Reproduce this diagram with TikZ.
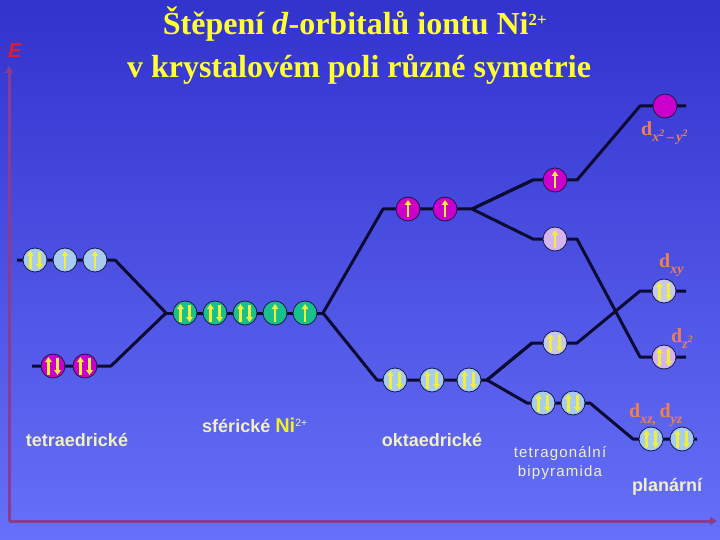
\documentclass[tikz,border=0pt]{standalone}
\usepackage{fontspec}
\setmainfont{Liberation Serif}
\setsansfont{Liberation Sans}
\usetikzlibrary{arrows.meta}
\definecolor{bgtop}{RGB}{50,50,205}
\definecolor{bgbot}{RGB}{102,112,248}
\definecolor{levcol}{RGB}{12,12,50}
\definecolor{edgecol}{RGB}{25,25,70}
\definecolor{lblue}{RGB}{168,204,240}
\definecolor{mag}{RGB}{204,0,204}
\definecolor{grn}{RGB}{24,192,140}
\definecolor{lav}{RGB}{198,200,240}
\definecolor{viol}{RGB}{214,180,240}
\definecolor{spincol}{RGB}{240,240,60}
\definecolor{axcol}{RGB}{140,60,140}
\definecolor{titcol}{RGB}{255,255,50}
\definecolor{labcol}{RGB}{240,128,84}
\definecolor{txtcol}{RGB}{240,240,192}
\definecolor{nicol}{RGB}{240,240,40}
\definecolor{ecol}{RGB}{225,30,40}
\newcommand\spinu[1]{\draw[spin] ([yshift=-8.5pt]#1.center) -- ([yshift=9pt]#1.center);}
\newcommand\spinud[1]{\draw[spin] ([xshift=-4.5pt,yshift=-8.5pt]#1.center) -- ([xshift=-4.5pt,yshift=9pt]#1.center);
  \draw[spin] ([xshift=4.5pt,yshift=8.5pt]#1.center) -- ([xshift=4.5pt,yshift=-9pt]#1.center);}
\newcommand\dsub[1]{d\raisebox{-6pt}{\fontsize{14}{14}\selectfont\itshape #1}}
\begin{document}
\begin{tikzpicture}[x=1pt,y=-1pt,
  lev/.style={draw=levcol, line width=3pt, line join=round},
  orb/.style={circle, minimum size=24pt, inner sep=0pt, draw=edgecol, line width=0.8pt},
  spin/.style={draw=spincol, line width=2.2pt, -{Triangle[width=6.5pt,length=5pt]}},
  axis/.style={draw=axcol, line width=3pt, -{Triangle[width=8pt,length=7pt]}},
  dlab/.style={anchor=base west, inner sep=0pt, text=labcol, font=\fontsize{20}{20}\selectfont\bfseries},
  blab/.style={inner sep=0pt, text=txtcol, font=\sffamily\fontsize{18}{18}\selectfont\bfseries},
  title/.style={anchor=base, inner sep=0pt, text=titcol, font=\fontsize{32}{32}\selectfont\bfseries}]
\useasboundingbox (0,0) rectangle (720,540);
\shade[top color=bgtop, bottom color=bgbot] (0,0) rectangle (720,540);

% axes
\coordinate (O) at (9,521);
\coordinate (Etop) at (9,66);
\coordinate (Xend) at (717,521);
\draw[axis] (O) -- (Etop);
\draw[axis] (O) -- (Xend);
\node[text=ecol, font=\sffamily\fontsize{20}{20}\selectfont\bfseries\itshape] (E) at (15,51) {E};

% titles
\node[title] (t1) at (355,35) {Štěpení \textit{d}-orbitalů iontu Ni{\fontsize{24}{24}\selectfont\textsuperscript{2+}}};
\node[title] (t2) at (359,78) {v krystalovém poli různé symetrie};

% level coordinates
\coordinate (tUa) at (17,260); \coordinate (tUb) at (115,260);
\coordinate (tLa) at (32,366); \coordinate (tLb) at (111,366);
\coordinate (sLa) at (166,313); \coordinate (sLb) at (323,313);
\coordinate (egA) at (383,209); \coordinate (egB) at (472,209);
\coordinate (t2A) at (377,380); \coordinate (t2B) at (487,380);
\coordinate (q1A) at (533,180); \coordinate (q1B) at (577,180);
\coordinate (q2A) at (533,239); \coordinate (q2B) at (577,239);
\coordinate (q3A) at (532,343); \coordinate (q3B) at (577,343);
\coordinate (q4A) at (527,403); \coordinate (q4B) at (590,403);
\coordinate (p1A) at (640,106); \coordinate (p1B) at (686,106);
\coordinate (p2A) at (640,291); \coordinate (p2B) at (686,291);
\coordinate (p3A) at (640,357); \coordinate (p3B) at (686,357);
\coordinate (p4A) at (633,439); \coordinate (p4B) at (697,439);

% levels and correlation lines
\draw[lev] (tUa) -- (tUb) -- (sLa) -- (tLb) -- (tLa);
\draw[lev] (sLa) -- (sLb);
\draw[lev] (egB) -- (egA) -- (sLb) -- (t2A) -- (t2B);
\draw[lev] (q1A) -- (egB) -- (q2A) -- (q2B) -- (p3A) -- (p3B);
\draw[lev] (egB) -- (q1A) -- (q1B) -- (p1A) -- (p1B);
\draw[lev] (q3A) -- (t2B) -- (q4A) -- (q4B) -- (p4A) -- (p4B);
\draw[lev] (t2B) -- (q3A) -- (q3B) -- (p2A) -- (p2B);

% tetrahedral
\node[orb, fill=lblue] (a1) at (35,260) {}; \spinud{a1}
\node[orb, fill=lblue] (a2) at (65,260) {}; \spinu{a2}
\node[orb, fill=lblue] (a3) at (95,260) {}; \spinu{a3}
\node[orb, fill=mag] (b1) at (53,366) {}; \spinud{b1}
\node[orb, fill=mag] (b2) at (85,366) {}; \spinud{b2}
% spherical
\node[orb, fill=grn] (s1) at (185,313) {}; \spinud{s1}
\node[orb, fill=grn] (s2) at (215,313) {}; \spinud{s2}
\node[orb, fill=grn] (s3) at (245,313) {}; \spinud{s3}
\node[orb, fill=grn] (s4) at (275,313) {}; \spinu{s4}
\node[orb, fill=grn] (s5) at (305,313) {}; \spinu{s5}
% octahedral
\node[orb, fill=mag] (e1) at (408,209) {}; \spinu{e1}
\node[orb, fill=mag] (e2) at (445,209) {}; \spinu{e2}
\node[orb, fill=lblue] (g1) at (395,380) {}; \spinud{g1}
\node[orb, fill=lblue] (g2) at (432,380) {}; \spinud{g2}
\node[orb, fill=lblue] (g3) at (469,380) {}; \spinud{g3}
% tetragonal bipyramid
\node[orb, fill=mag] (r1) at (555,180) {}; \spinu{r1}
\node[orb, fill=viol] (r2) at (555,239) {}; \spinu{r2}
\node[orb, fill=lav] (r3) at (555,343) {}; \spinud{r3}
\node[orb, fill=lblue] (r4) at (543,403) {}; \spinud{r4}
\node[orb, fill=lblue] (r5) at (573,403) {}; \spinud{r5}
% planar
\node[orb, fill=mag] (n1) at (665,106) {};
\node[orb, fill=lav] (n2) at (664,291) {}; \spinud{n2}
\node[orb, fill=viol] (n3) at (664,357) {}; \spinud{n3}
\node[orb, fill=lblue] (n4) at (651,439) {}; \spinud{n4}
\node[orb, fill=lblue] (n5) at (682,439) {}; \spinud{n5}

% orbital labels
\node[dlab] (l1) at (641,136) {\dsub{x\textsuperscript{2}\,–\,y\textsuperscript{2}}};
\node[dlab] (l2) at (659,267) {\dsub{xy}};
\node[dlab] (l3) at (671,342) {\dsub{z\textsuperscript{2}}};
\node[dlab] (l4) at (629,417) {\dsub{xz,}\,\dsub{yz}};

% bottom labels
\node[blab] (c1) at (77,440) {tetraedrické};
\node[blab] (c2) at (255,425) {sférické {\color{nicol}\fontsize{20}{20}\selectfont Ni}{\mdseries\fontsize{15}{15}\selectfont\textsuperscript{2+}}};
\node[blab] (c3) at (432,440) {oktaedrické};
\node[blab, font=\sffamily\fontsize{15}{19}\selectfont\addfontfeature{LetterSpace=8}, align=center] (c4) at (560,463) {tetragonální\\bipyramida};
\node[blab] (c5) at (667,487) {planární};
\end{tikzpicture}
\end{document}
